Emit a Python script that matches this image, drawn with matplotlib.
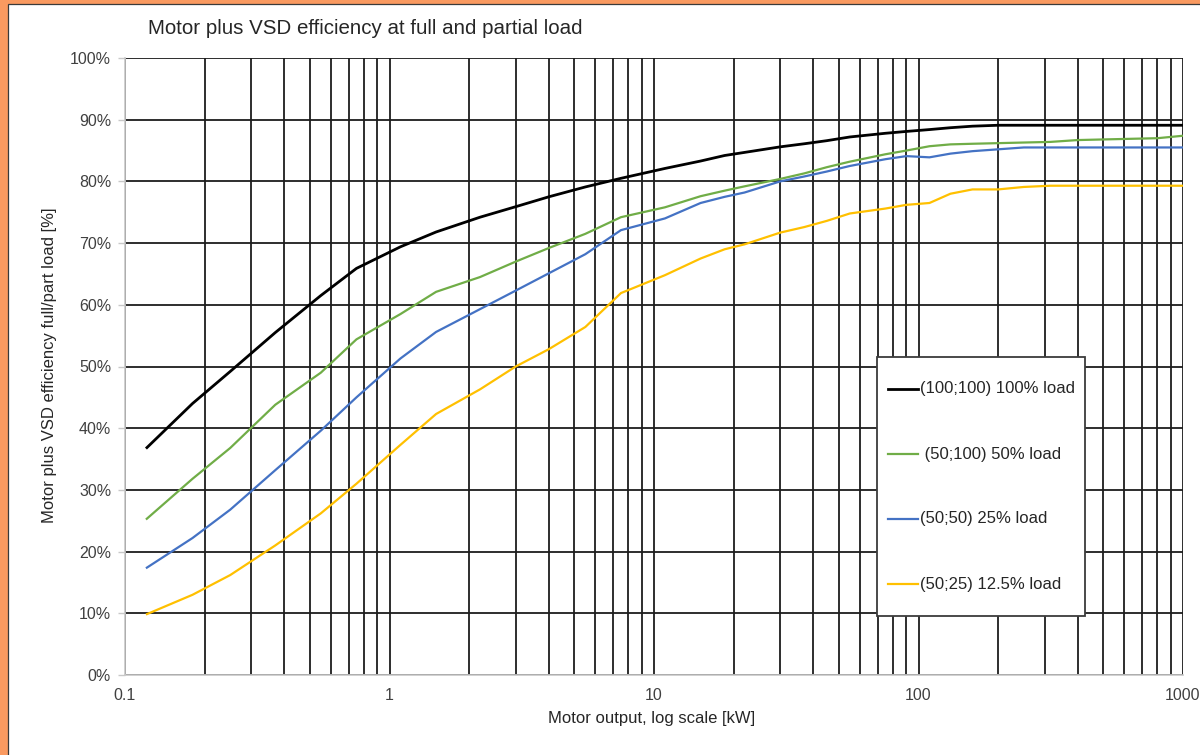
import numpy as np
import matplotlib
matplotlib.use("Agg")
import matplotlib.pyplot as plt
from matplotlib.patches import Rectangle
from matplotlib.lines import Line2D
from matplotlib.ticker import LogLocator, FixedLocator, FuncFormatter

plt.rcParams['font.family'] = ['Liberation Sans', 'DejaVu Sans']

# ---- data ----
power_kw = [0.12, 0.18, 0.25, 0.37, 0.55, 0.75, 1.1, 1.5, 2.2, 3, 4, 5.5, 7.5, 11, 15,
            18.5, 22, 30, 37, 45, 55, 75, 90, 110, 132, 160, 200, 250, 315, 400,
            500, 630, 800, 1000]

eff_100_100 = [36.7, 44.0, 49.2, 55.5, 61.5, 65.9, 69.4, 71.8, 74.2, 75.9, 77.5, 79.1,
               80.5, 82.1, 83.3, 84.2, 84.7, 85.6, 86.1, 86.6, 87.2, 87.8, 88.1, 88.4,
               88.7, 88.95, 89.1, 89.1, 89.1, 89.1, 89.1, 89.1, 89.1, 89.1]
eff_50_100 = [25.2, 31.8, 36.8, 43.8, 49.0, 54.4, 58.5, 62.1, 64.5, 67.0, 69.2, 71.5,
              74.2, 75.8, 77.6, 78.5, 79.2, 80.4, 81.3, 82.3, 83.2, 84.4, 85.0, 85.7,
              86.0, 86.1, 86.2, 86.3, 86.4, 86.7, 86.8, 86.9, 87.0, 87.4]
eff_50_50 = [17.3, 22.2, 26.8, 33.2, 39.6, 45.0, 51.3, 55.6, 59.3, 62.3, 65.1, 68.2,
             72.1, 74.0, 76.5, 77.5, 78.2, 80.0, 80.8, 81.6, 82.5, 83.6, 84.1, 83.9,
             84.5, 84.9, 85.2, 85.5, 85.5, 85.5, 85.5, 85.5, 85.5, 85.5]
eff_50_25 = [9.8, 13.0, 16.2, 21.0, 26.2, 31.0, 37.3, 42.3, 46.3, 50.0, 52.8, 56.4,
             61.9, 64.8, 67.5, 69.0, 69.8, 71.7, 72.6, 73.6, 74.8, 75.6, 76.2, 76.5,
             78.0, 78.7, 78.7, 79.1, 79.3, 79.3, 79.3, 79.3, 79.3, 79.3]

series_labels = ["(100;100) 100% load", " (50;100) 50% load", "(50;50) 25% load",
                 "(50;25) 12.5% load"]
series_values = [eff_100_100, eff_50_100, eff_50_50, eff_50_25]
series_colors = ["#000000", "#70AD47", "#4472C4", "#FFC000"]
series_widths = [2.0, 1.6, 1.6, 1.6]

y_ticks = [0, 10, 20, 30, 40, 50, 60, 70, 80, 90, 100]
x_tick_values = [0.1, 1, 10, 100, 1000]
x_tick_labels = ["0.1", "1", "10", "100", "1000"]

title = "Motor plus VSD efficiency at full and partial load"
x_label = "Motor output, log scale [kW]"
y_label = "Motor plus VSD efficiency full/part load [%]"

# ---- figure ----
W, H = 1200, 755
fig = plt.figure(figsize=(W / 100, H / 100), dpi=100, facecolor="#FA9A60")
fig.patches.append(Rectangle((8 / W, -0.01), 1.0, (H - 4) / H + 0.01,
                             transform=fig.transFigure, facecolor="white",
                             edgecolor="#3a3a3a", linewidth=0.9, zorder=-5))

left, right, top, bottom = 125, 1183, 58, 675
ax = fig.add_axes([left / W, 1 - bottom / H, (right - left) / W, (bottom - top) / H])
ax.set_facecolor("white")
ax.set_xscale("log")
ax.set_xlim(0.1, 1000)
ax.set_ylim(0, 100)

for vals, col, lw in zip(series_values, series_colors, series_widths):
    ax.plot(power_kw, vals, color=col, linewidth=lw, zorder=3, solid_capstyle="butt")

ax.xaxis.set_major_locator(FixedLocator(x_tick_values))
ax.xaxis.set_major_formatter(FuncFormatter(lambda v, p: x_tick_labels[x_tick_values.index(v)]
                                           if v in x_tick_values else ""))
ax.xaxis.set_minor_locator(LogLocator(base=10, subs=np.arange(2, 10)))
ax.xaxis.set_minor_formatter(FuncFormatter(lambda v, p: ""))
ax.set_yticks(y_ticks)
ax.set_yticklabels([f"{t}%" for t in y_ticks])

ax.grid(True, which="both", axis="x", color="#1c1c1c", linewidth=1.3, zorder=1)
ax.grid(True, which="major", axis="y", color="#1c1c1c", linewidth=1.3, zorder=1)
ax.set_axisbelow(True)

for s in ["top", "right"]:
    ax.spines[s].set_visible(False)
for s in ["left", "bottom"]:
    ax.spines[s].set_color("#c8c8c8")
    ax.spines[s].set_linewidth(1.2)
    ax.spines[s].set_zorder(2)

ax.tick_params(axis="x", which="both", length=0, pad=9, labelsize=11.5, labelcolor="#404040")
ax.tick_params(axis="y", which="major", length=5, width=1, color="#c8c8c8", pad=5,
               labelsize=11.5, labelcolor="#404040")

fig.text(148 / W, 1 - 28 / H, title, fontsize=14.8, color="#262626", ha="left", va="center")
fig.text(652 / W, 1 - 719 / H, x_label, fontsize=12, color="#262626", ha="center", va="center")
fig.text(50 / W, 1 - 365 / H, y_label, fontsize=12, color="#262626", ha="center",
         va="center", rotation=90)

# ---- legend (manual box) ----
lx0, lx1, ly0, ly1 = 877, 1085, 357, 616
fig.patches.append(Rectangle((lx0 / W, 1 - ly1 / H), (lx1 - lx0) / W, (ly1 - ly0) / H,
                             transform=fig.transFigure, facecolor="white",
                             edgecolor="#3c3c3c", linewidth=1.3, zorder=5))
entry_y = [389, 454, 519, 584]
for lab, col, ey in zip(series_labels, series_colors, entry_y):
    fig.lines.append(Line2D([888 / W, 918 / W], [1 - ey / H, 1 - ey / H],
                            transform=fig.transFigure, color=col,
                            linewidth=2.0 if col == "#000000" else 1.6, zorder=6))
    fig.text(920 / W, 1 - ey / H, lab, fontsize=12, color="#262626", ha="left",
             va="center", zorder=7)

fig.savefig("out.png", dpi=100, facecolor=fig.get_facecolor())
